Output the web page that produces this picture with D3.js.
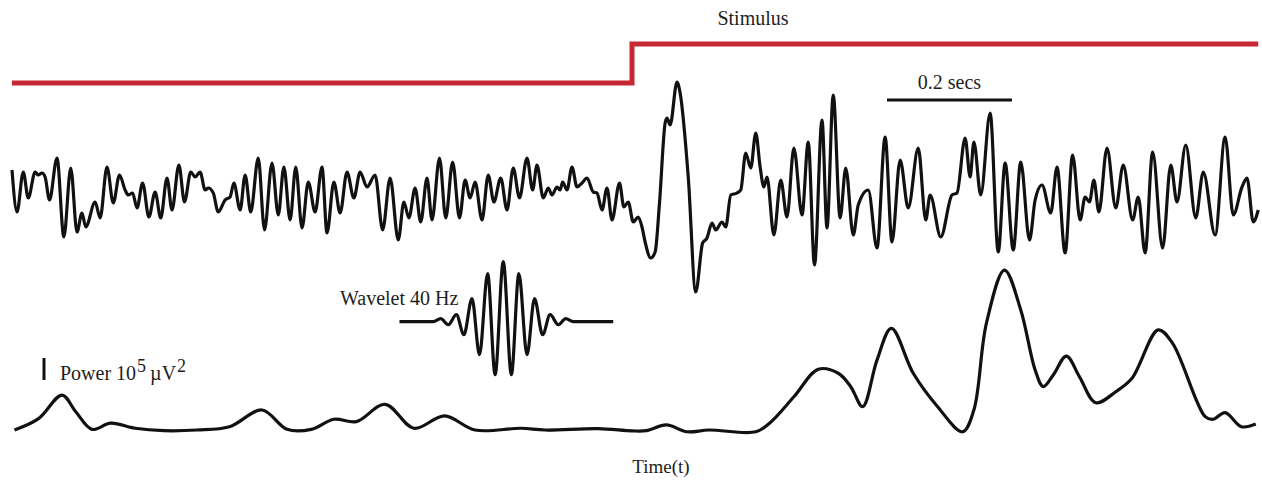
<!DOCTYPE html>
<html>
<head>
<meta charset="utf-8">
<script src="https://cdn.jsdelivr.net/npm/d3@7"></script>
<style>
  html, body { margin: 0; padding: 0; background: #fff; }
  svg { display: block; }
  text { font-family: "Liberation Serif", "Times New Roman", serif; fill: #1e1e1e; }
</style>
</head>
<body>
<svg id="chart" width="1262" height="480"></svg>
<script>
// Stimulus on/off (time in ms relative to onset)
const stimTime  = [-992, 0, 1002];
const stimLevel = [0, 1, 1];

// Raw EEG trace: time (ms) and voltage (µV)
const eegTime = [
  -992,-984,-974,-966,-955,-950,-944,-939,-932,-920,-909,-898,-888,-880,-874,-859,-851,-840,-830,-820,
  -811,-806,-799,-792,-783,-773,-763,-754,-744,-736,-725,-716,-706,-699,-691,-683,-678,-670,-662,-651,
  -643,-637,-627,-619,-610,-598,-588,-576,-566,-557,-547,-538,-528,-518,-507,-496,-488,-477,-467,-456,
  -445,-435,-424,-411,-399,-387,-374,-365,-357,-347,-338,-328,-320,-308,-298,-287,-276,-267,-259,-251,
  -240,-230,-221,-210,-200,-190,-180,-168,-159,-152,-142,-134,-128,-120,-115,-111,-104,-96,-88,-80,
  -72,-62,-56,-48,-40,-32,-20,-13,-6,2,10,16,21,30,37,44,53,56,61,72,
  77,90,102,113,120,128,134,144,150,158,168,174,182,190,198,205,211,216,227,238,
  248,259,272,282,292,304,312,322,333,342,354,362,378,392,405,416,429,442,458,470,
  477,494,512,520,533,541,547,558,573,586,597,610,622,636,645,656,670,680,693,705,
  717,725,732,739,747,760,774,786,801,810,821,833,849,862,872,886,902,914,933,949,
  962,976,984,994,1002
];
const eegValue = [
  30,-12,28,2,28,25,27,23,0,42,-37,32,-32,-13,-27,-2,-18,33,-3,25,
  10,5,7,-8,17,-17,8,-18,22,-10,35,-2,28,23,28,10,12,7,-12,0,
  3,17,-10,25,-12,42,-30,37,-15,33,-20,33,-28,18,-12,33,-33,18,-13,28,
  2,28,13,25,-30,22,-40,-2,-18,12,-22,22,-20,42,-18,38,-18,20,2,18,
  -20,25,-2,22,-10,32,2,42,10,35,2,12,5,13,10,18,10,33,13,17,
  22,8,7,-10,12,-20,17,-7,-2,-22,-17,-27,-42,-58,-52,-3,77,82,75,118,
  107,23,-92,-43,-38,-23,-30,-22,-27,5,7,10,47,32,67,33,13,23,-35,20,
  -17,52,-15,58,-65,80,-28,105,-18,32,-35,-5,10,-48,63,-42,40,-8,52,-20,
  5,-37,5,7,62,23,58,5,87,-52,37,-50,38,-40,0,15,-13,33,-53,45,
  -20,3,-2,20,-12,52,-8,35,-20,3,-53,48,-48,35,-2,55,-18,28,-35,63,
  -15,13,22,-22,-10
];

// 40 Hz Morlet wavelet: time (ms) from its centre and amplitude
const waveletTime  = [-166,-112,-100,-88,-75,-63,-50,-38,-25,-13,0,13,25,38,50,63,75,88,100,112,176];
const waveletValue = [0,0,3,-3,7,-13,23,-33,48,-53,60,-53,48,-33,23,-13,7,-3,3,0,0];

// 40 Hz power envelope: time (ms) and power (10^5 µV^2)
const powerTime = [
  -988,-949,-912,-890,-864,-834,-795,-749,-696,-644,-592,-552,-513,-477,-441,-395,-349,-300,-251,-178,
  -139,-54,0,23,55,88,123,198,220,259,298,330,350,369,392,415,450,489,529,547,
  567,596,622,645,658,674,695,716,742,774,800,842,865,917,930,949,975,998
];
const powerValue = [
  0.09,0.62,1.68,0.92,0.12,0.40,0.17,0.06,0.09,0.24,1.00,0.12,0.12,0.58,0.47,1.26,0.17,0.73,0.09,0.17,
  0.09,0.15,0.05,0.06,0.32,0.01,0.09,0.01,0.40,1.60,2.85,2.67,2.06,1.15,3.27,4.71,2.67,1.15,0.01,1.00,
  4.94,7.36,5.55,2.82,2.06,2.59,3.45,2.51,1.33,1.83,2.44,4.64,4.03,0.70,0.58,0.88,0.24,0.36
];

// Annotations
const scaleBarStart = 408;     // ms
const scaleBarLength = 200;    // ms  (0.2 s)
const powerBarUnit = 1;        // 10^5 µV^2

const svg = d3.select("#chart");

// Shared time axis
const x = d3.scaleLinear().domain([-1000, 1000]).range([7, 1257]);

// Vertical scales for each panel
const stimY  = d3.scaleLinear().domain([0, 1]).range([83, 44]);
const eegY   = d3.scaleLinear().domain([-100, 100]).range([300, 100]);
const powerY = d3.scaleLinear().domain([0, 8]).range([432, 256]);
const waveX  = d3.scaleLinear().domain([-166, 176]).range([399.5, 613.25]);
const waveY  = d3.scaleLinear().domain([-60, 60]).range([381.7, 261.7]);

// Stimulus step
const stim = stimTime.map((t, i) => [t, stimLevel[i]]);
svg.append("path")
  .datum(stim)
  .attr("fill", "none")
  .attr("stroke", "#c62834")
  .attr("stroke-width", 5)
  .attr("d", d3.line().x(d => x(d[0])).y(d => stimY(d[1])).curve(d3.curveStepAfter));

svg.append("text")
  .attr("x", 753).attr("y", 25)
  .attr("text-anchor", "middle")
  .attr("font-size", 20)
  .text("Stimulus");

// Time scale bar
svg.append("line")
  .attr("x1", x(scaleBarStart)).attr("x2", x(scaleBarStart + scaleBarLength))
  .attr("y1", 100).attr("y2", 100)
  .attr("stroke", "#111").attr("stroke-width", 3);
svg.append("text")
  .attr("x", x(scaleBarStart + scaleBarLength / 2)).attr("y", 89)
  .attr("text-anchor", "middle")
  .attr("font-size", 20)
  .text("0.2 secs");

// EEG trace
const eeg = eegTime.map((t, i) => [t, eegValue[i]]);
svg.append("path")
  .datum(eeg)
  .attr("fill", "none")
  .attr("stroke", "#111")
  .attr("stroke-width", 3.2)
  .attr("stroke-linejoin", "round")
  .attr("d", d3.line().x(d => x(d[0])).y(d => eegY(d[1])).curve(d3.curveMonotoneX));

// Wavelet inset
const wave = waveletTime.map((t, i) => [t, waveletValue[i]]);
svg.append("path")
  .datum(wave)
  .attr("fill", "none")
  .attr("stroke", "#111")
  .attr("stroke-width", 3.2)
  .attr("d", d3.line().x(d => waveX(d[0])).y(d => waveY(d[1])).curve(d3.curveMonotoneX));
svg.append("text")
  .attr("x", 340).attr("y", 305)
  .attr("font-size", 20)
  .text("Wavelet 40 Hz");

// Power scale bar and label
svg.append("line")
  .attr("x1", 44).attr("x2", 44)
  .attr("y1", powerY(0) - 52).attr("y2", powerY(powerBarUnit) - 52)
  .attr("stroke", "#111").attr("stroke-width", 3);
const powerLabel = svg.append("text")
  .attr("x", 60).attr("y", 380)
  .attr("font-size", 20);
powerLabel.append("tspan").text("Power 10");
powerLabel.append("tspan").attr("dy", -8).attr("dx", 1).attr("font-size", 18).text("5");
powerLabel.append("tspan").attr("dy", 8).attr("dx", 4).text("\u00b5V");
powerLabel.append("tspan").attr("dy", -8).attr("dx", 1).attr("font-size", 18).text("2");

// Power envelope
const power = powerTime.map((t, i) => [t, powerValue[i]]);
svg.append("path")
  .datum(power)
  .attr("fill", "none")
  .attr("stroke", "#111")
  .attr("stroke-width", 3.2)
  .attr("d", d3.line().x(d => x(d[0])).y(d => powerY(d[1])).curve(d3.curveCatmullRom.alpha(0.5)));

// Time label
svg.append("text")
  .attr("x", 661).attr("y", 473)
  .attr("text-anchor", "middle")
  .attr("font-size", 19)
  .text("Time(t)");
</script>
</body>
</html>
